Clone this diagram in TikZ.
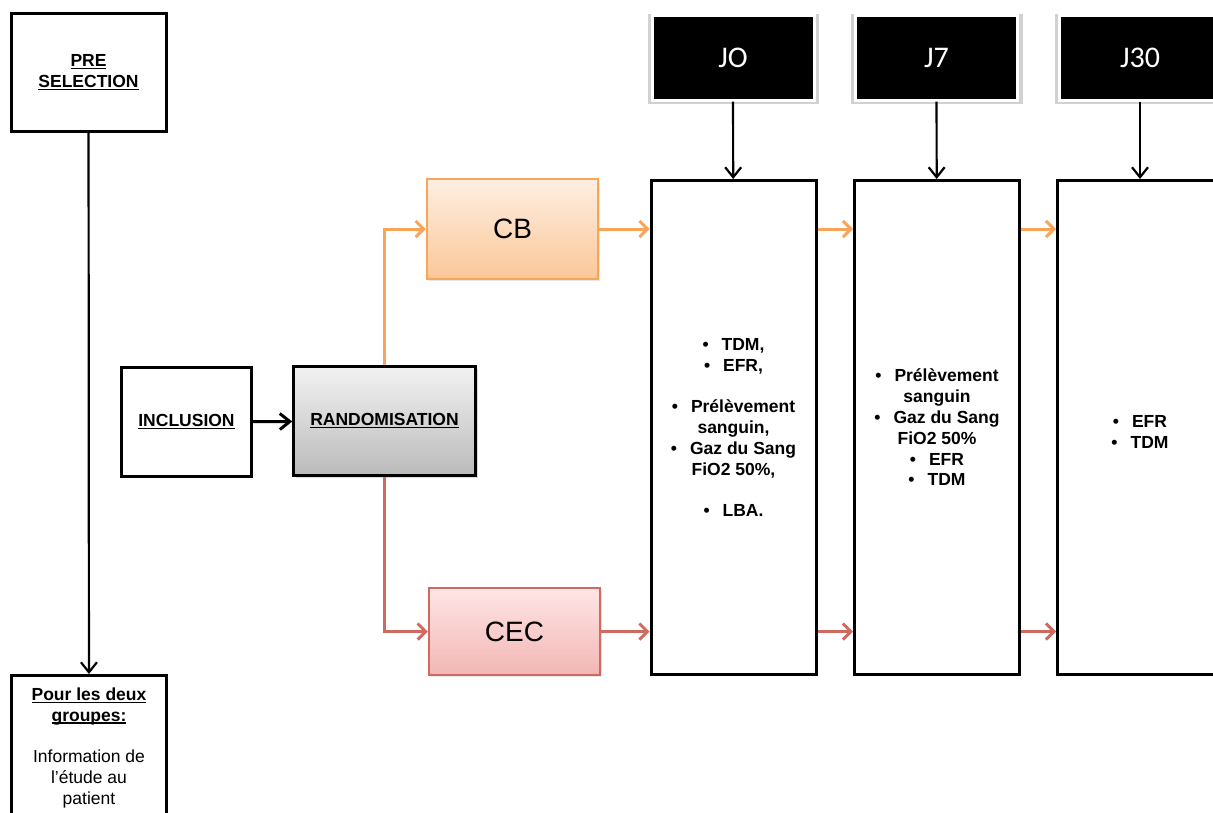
\documentclass[tikz,border=0pt]{standalone}
\usepackage{fontspec}
\setmainfont{Liberation Sans}
\newfontfamily\calfont{Carlito}
\usepackage{tikz}
\usetikzlibrary{arrows.meta,shadows}
\definecolor{orcb}{HTML}{F8A55A}
\definecolor{rgcec}{HTML}{CF6A60}
\newcommand\souligne[1]{\setbox0\hbox{#1}\rlap{\rule[-2.6pt]{\wd0}{1.5pt}}\box0}
\newcommand\puce{\textbullet\hspace{13pt}}
\tikzset{
  boite/.style={draw=black, line width=3pt, fill=white, inner sep=0pt, align=center, font=\fontsize{17.5}{20.8}\selectfont\bfseries},
  colonne/.style={boite, minimum width=165pt, minimum height=494pt},
  jour/.style={fill=black, draw=white, line width=3pt, text=white, inner sep=0pt, minimum width=162pt, minimum height=85pt, font=\calfont\fontsize{30}{36}\selectfont,
    general shadow={shadow xshift=0.5pt, shadow yshift=-1.5pt, shadow scale=1.06, fill=black, opacity=.18}},
  bras/.style={inner sep=0pt, line width=2.5pt, font=\fontsize{28}{32}\selectfont, drop shadow={shadow xshift=2pt, shadow yshift=-2pt, opacity=.2}},
  noir/.style={-{Straight Barb[length=10pt,width=16pt]}, line width=2.2pt, black},
  orfl/.style={-{Straight Barb[length=8pt,width=16pt]}, line width=3pt, orcb},
  rgfl/.style={-{Straight Barb[length=8pt,width=16pt]}, line width=3pt, rgcec},
}
\begin{document}
\begin{tikzpicture}[x=1pt,y=-1pt]
  \useasboundingbox (0,0) rectangle (1213,812);
  \fill[white] (0,0) rectangle (1213,812);
  \clip (0,0) rectangle (1213,812);
  % colonne de gauche
  \node[boite, minimum width=155pt, minimum height=118pt] (pre) at (88.5,72.5) {\souligne{PRE}\\\souligne{SELECTION}};
  \node[boite, minimum width=155pt, minimum height=145pt] (pour) at (89,748)
    {\souligne{Pour les deux}\\\souligne{groupes:}\\[20.8pt]\mdseries Information de\\\mdseries l’étude au\\\mdseries patient};
  \node[boite, minimum width=130pt, minimum height=109pt] (incl) at (186.5,422) {\souligne{INCLUSION}};
  \node[boite, line width=2.5pt, minimum width=182pt, minimum height=109pt, top color=black!5, bottom color=black!27,
    drop shadow={shadow xshift=2pt, shadow yshift=-2pt, opacity=.3}] (rand) at (384.5,421) {\souligne{RANDOMISATION}};
  % bras
  \node[bras, draw=orcb, top color=orcb!18, bottom color=orcb!62, minimum width=171pt, minimum height=100pt] (cb) at (512.5,229) {CB};
  \node[bras, draw=rgcec, top color=red!10, bottom color=red!30!rgcec!40, minimum width=171pt, minimum height=87pt] (cec) at (514.5,631.5) {CEC};
  % suivi
  \node[colonne] (c0) at (733.5,427.5) {\puce TDM,\\\puce EFR,\\[20.8pt]\puce Prélèvement\\sanguin,\\\puce Gaz du Sang\\FiO2 50\%,\\[20.8pt]\puce LBA.};
  \node[colonne] (c7) at (937,427.5) {\puce Prélèvement\\sanguin\\\puce Gaz du Sang\\FiO2 50\%\\\puce EFR\\\puce TDM};
  \node[colonne] (c30) at (1140,427.5) {\mbox{}\\\puce EFR\\\puce TDM};
  \node[jour] (j0) at (733,57.5) {JO};
  \node[jour] (j7) at (936.5,57.5) {J7};
  \node[jour] (j30) at (1140,57.5) {J30};
  % fleches
  \draw[noir] (pre) -- (pour);
  \draw[noir, line width=3pt] (incl) -- (rand);
  \draw[orfl] (rand.north) |- (cb.west);
  \draw[rgfl] (rand.south) |- (cec.west);
  \draw[orfl] (cb.east) -- (cb.east -| c0.west);
  \draw[orfl] (c0.east |- cb.east) -- (c7.west |- cb.east);
  \draw[orfl] (c7.east |- cb.east) -- (c30.west |- cb.east);
  \draw[rgfl] (cec.east) -- (cec.east -| c0.west);
  \draw[rgfl] (c0.east |- cec.east) -- (c7.west |- cec.east);
  \draw[rgfl] (c7.east |- cec.east) -- (c30.west |- cec.east);
  \draw[noir] (j0) -- (c0);
  \draw[noir] (j7) -- (c7);
  \draw[noir] (j30) -- (c30);
\end{tikzpicture}
\end{document}
